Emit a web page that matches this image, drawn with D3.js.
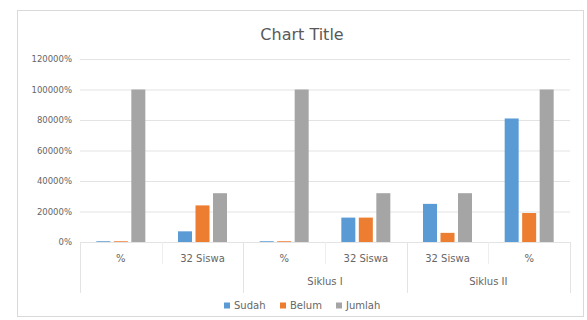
<!DOCTYPE html>
<html>
<head>
<meta charset="utf-8">
<script src="https://cdn.jsdelivr.net/npm/d3@7"></script>
<style>
  body { margin: 0; background: #fff; }
  text { font-family: "DejaVu Sans", sans-serif; fill: #666; }
</style>
</head>
<body>
<div class="chart"></div>
<script>
// Data
const groups = ["", "Siklus I", "Siklus II"];
const categories = [
  {group: "", label: "%"},
  {group: "", label: "32 Siswa"},
  {group: "Siklus I", label: "%"},
  {group: "Siklus I", label: "32 Siswa"},
  {group: "Siklus II", label: "32 Siswa"},
  {group: "Siklus II", label: "%"}
];
const seriesNames = ["Sudah", "Belum", "Jumlah"];
const sudah = [500, 7000, 500, 16000, 25000, 81000];
const belum = [500, 24000, 500, 16000, 6000, 19000];
const jumlah = [100000, 32000, 100000, 32000, 32000, 100000];
const yTicks = [0, 20000, 40000, 60000, 80000, 100000, 120000];
const colors = ["#5b9bd5", "#ed7d31", "#a5a5a5"];

const W = 587, H = 320;
const margin = {left: 80, right: 17, top: 59, bottom: 78};
const width = W - margin.left - margin.right, height = H - margin.top - margin.bottom;

const values = [sudah, belum, jumlah];
const rows = categories.map((c, i) => ({
  id: i, label: c.label, group: c.group,
  vals: seriesNames.map((s, j) => ({series: s, j: j, v: values[j][i]}))
}));

// Scales
const xScale = d3.scaleBand().domain(d3.range(categories.length)).range([0, width]);
const xInner = d3.scaleBand().domain(d3.range(3))
    .range([xScale.bandwidth() * 0.2, xScale.bandwidth() * 0.8])
    .paddingInner(0.2);
const yScale = d3.scaleLinear().domain([0, 120000]).range([height, 0]);

const svg = d3.select(".chart").append("svg")
    .attr("width", W).attr("height", H);

// chart frame
svg.append("rect")
    .attr("x", 17.5).attr("y", 10.5)
    .attr("width", 566).attr("height", 306)
    .attr("fill", "#fff").attr("stroke", "#d9d9d9");

svg.append("text")
    .attr("x", 302).attr("y", 40)
    .attr("text-anchor", "middle")
    .style("font-size", "16px")
    .style("fill", "#595959")
    .text("Chart Title");

const g = svg.append("g")
    .attr("transform", "translate(" + [margin.left, margin.top] + ")");

// y axis + grid
const yAxis = g.append("g")
    .call(d3.axisLeft(yScale).tickValues(yTicks).tickSize(-width)
      .tickFormat(d => d + "%"));
yAxis.select(".domain").remove();
yAxis.selectAll(".tick line").attr("stroke", "#e3e3e3");
yAxis.selectAll(".tick text").attr("x", -8).style("font-size", "8.5px").attr("fill", "#777");

// bars
const cat = g.selectAll(".cat")
    .data(rows)
  .enter().append("g")
    .attr("class", "cat")
    .attr("transform", d => "translate(" + xScale(d.id) + ",0)");
cat.selectAll("rect")
    .data(d => d.vals)
  .enter().append("rect")
    .attr("x", d => xInner(d.j))
    .attr("width", xInner.bandwidth())
    .attr("y", d => yScale(d.v))
    .attr("height", d => height - yScale(d.v))
    .attr("fill", d => colors[d.j]);

// category axis (multi-level)
g.append("line")
    .attr("x1", 0).attr("x2", width)
    .attr("y1", height + 0.5).attr("y2", height + 0.5)
    .attr("stroke", "#e3e3e3");
const bounds = d3.range(categories.length + 1);
g.selectAll(".sep")
    .data(bounds)
  .enter().append("line")
    .attr("x1", d => Math.round(d * xScale.step()) + 0.5)
    .attr("x2", d => Math.round(d * xScale.step()) + 0.5)
    .attr("y1", height)
    .attr("y2", d => d % 2 === 0 ? height + 51 : height + 22)
    .attr("stroke", d => d % 2 === 0 ? "#e3e3e3" : "#eeeeee");
cat.append("text")
    .attr("x", xScale.bandwidth() / 2)
    .attr("y", height + 20)
    .attr("text-anchor", "middle")
    .style("font-size", "10px")
    .text(d => d.label);
g.selectAll(".grp")
    .data(groups)
  .enter().append("text")
    .attr("x", (d, i) => xScale(i * 2) + xScale.step())
    .attr("y", height + 43)
    .attr("text-anchor", "middle")
    .style("font-size", "10px")
    .text(d => d);

// legend
const legend = svg.append("g").attr("transform", "translate(224,309)");
const li = legend.selectAll("g")
    .data(seriesNames)
  .enter().append("g")
    .attr("transform", (d, i) => "translate(" + [i * 56, 0] + ")");
li.append("rect")
    .attr("x", 0).attr("y", -6.5).attr("width", 6).attr("height", 6)
    .attr("fill", (d, i) => colors[i]);
li.append("text")
    .attr("x", 10).attr("y", 0)
    .style("font-size", "10px")
    .text(d => d);
</script>
</body>
</html>
